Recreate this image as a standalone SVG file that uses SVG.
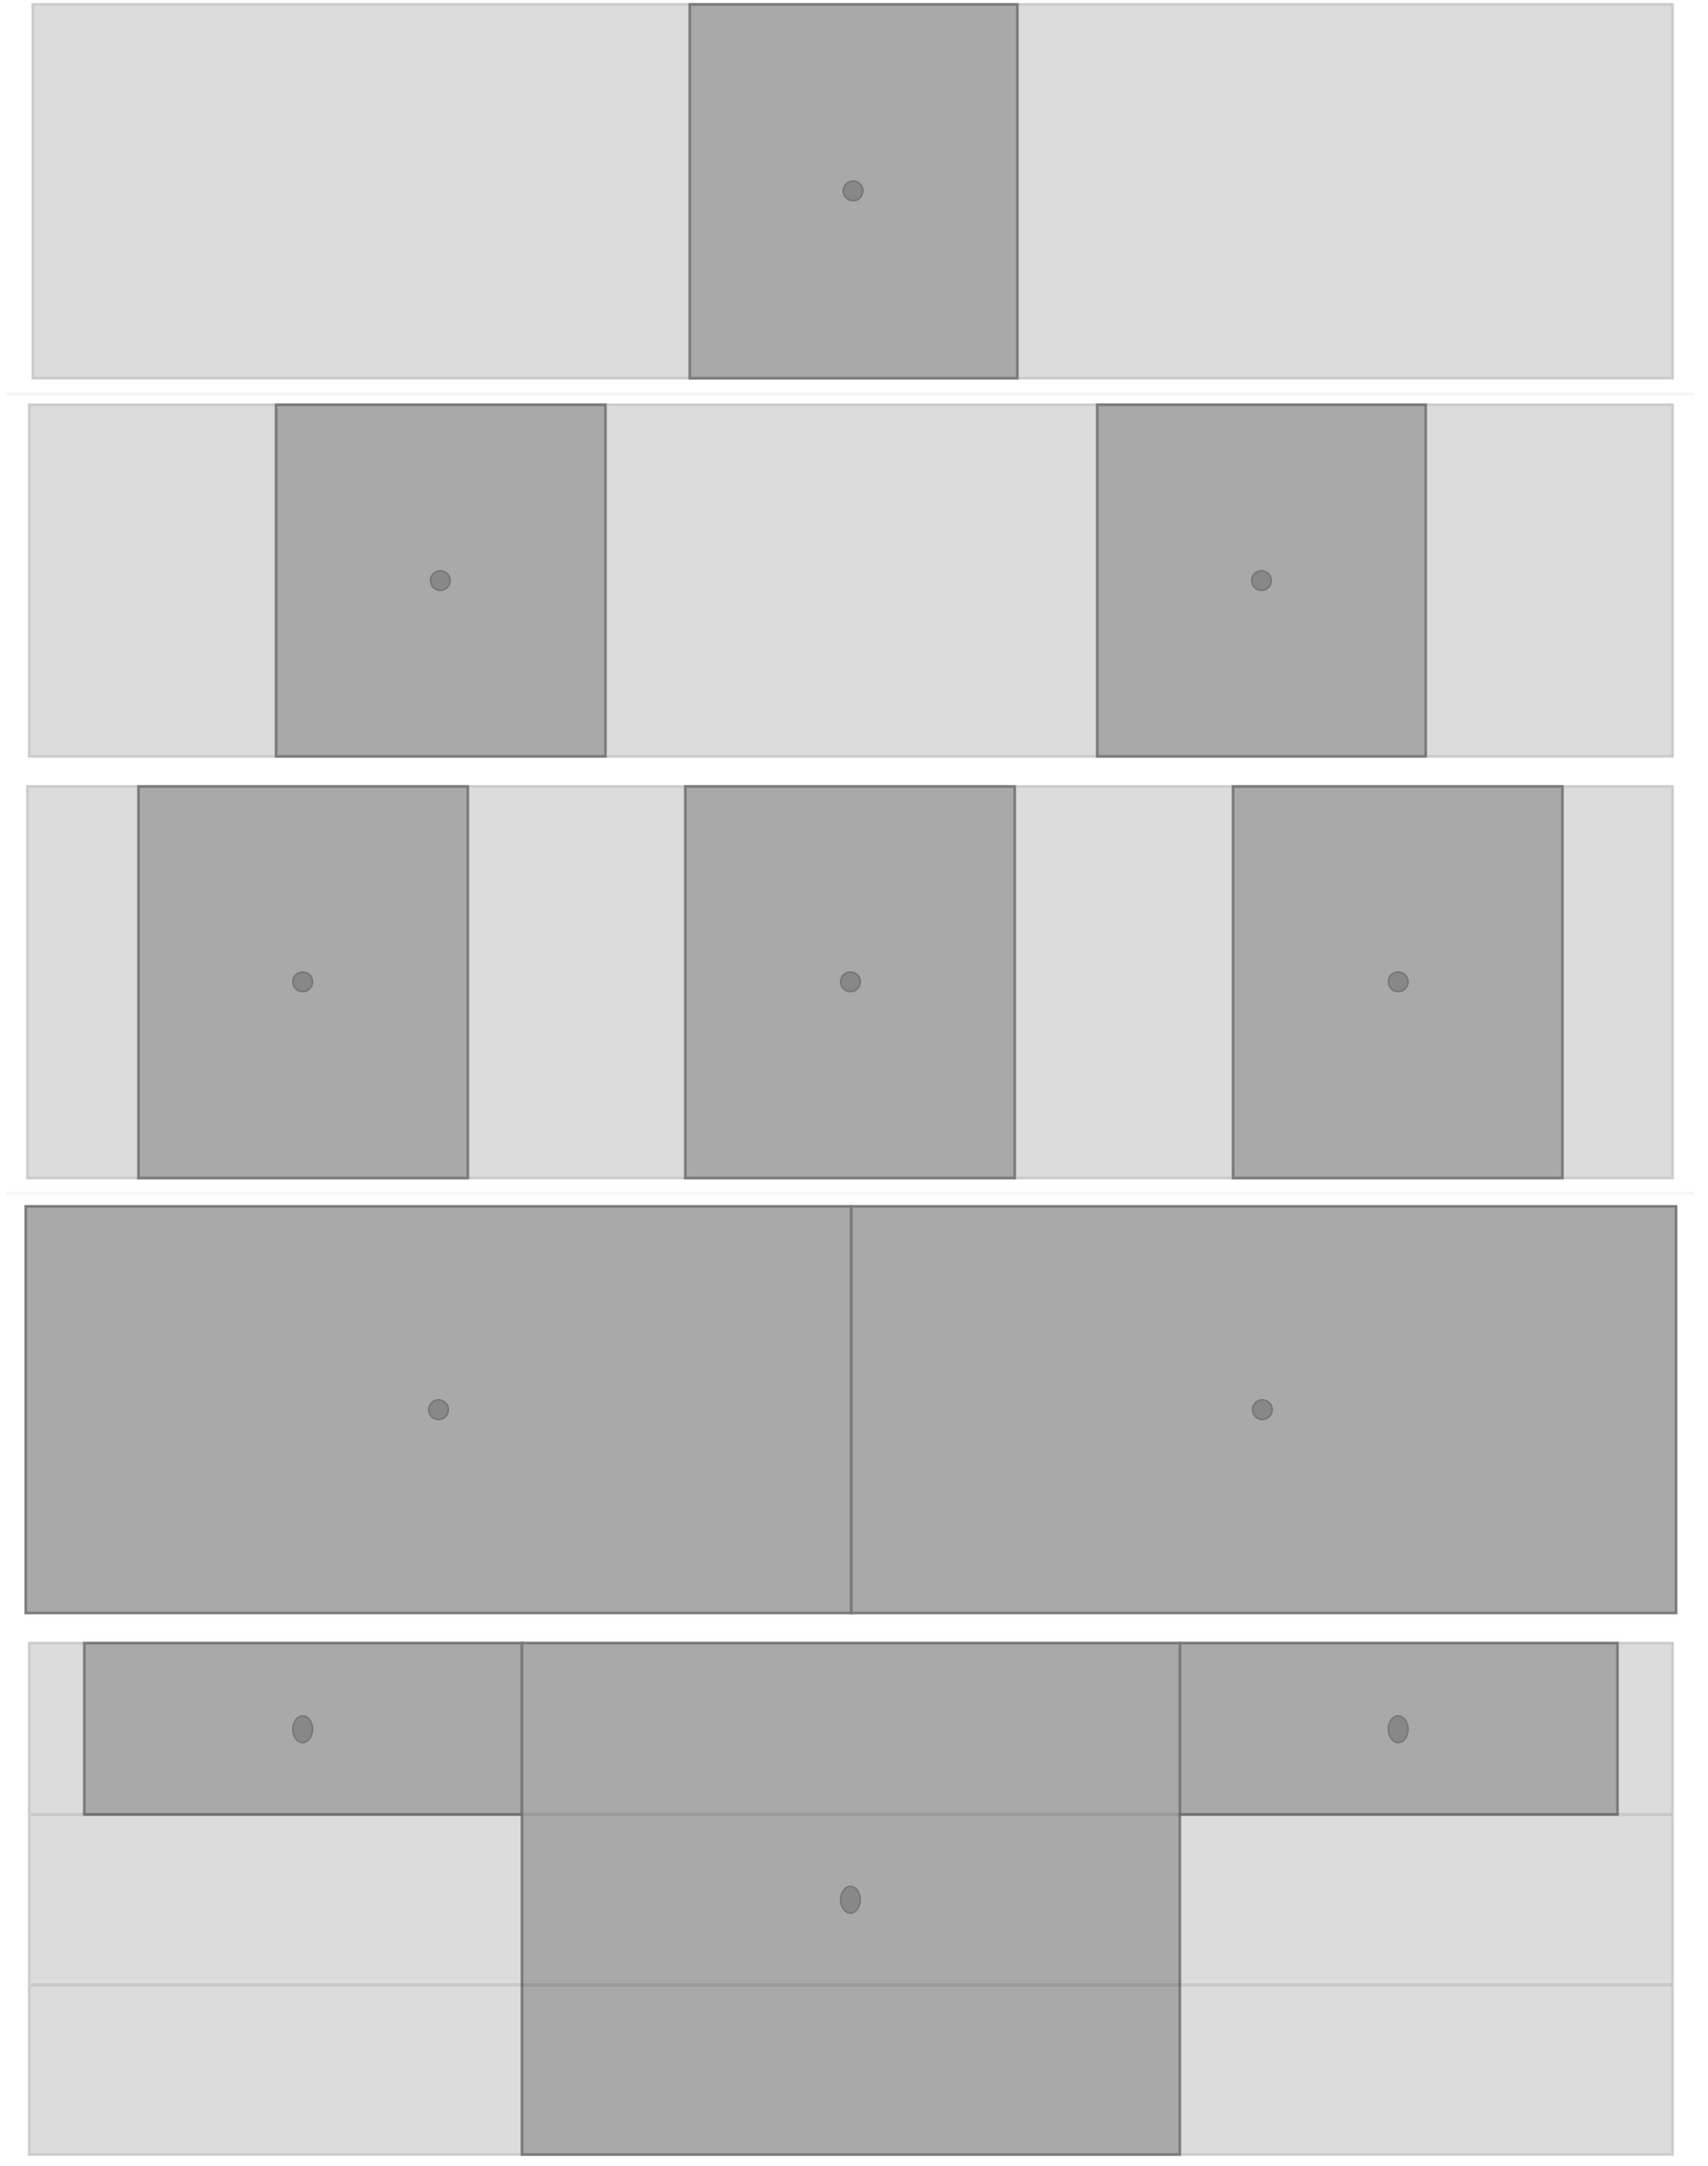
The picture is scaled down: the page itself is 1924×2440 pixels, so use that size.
<svg xmlns="http://www.w3.org/2000/svg" width="1924" height="2440" viewBox="0 0 1924 2440">
<style>
.bg{fill:#dcdcdc;stroke:#cbcbcb;stroke-width:3}
.item{fill:#a9a9a9;stroke:#7a7a7a;stroke-width:3}
.dot{fill:#888888;stroke:#7a7a7a;stroke-width:2}
.grid{stroke:#000;stroke-opacity:0.08;stroke-width:4;fill:none}
.sep{stroke:#f6f6f6;stroke-width:3}
</style>
<rect x="0" y="0" width="1924" height="2440" fill="#ffffff"/>
<g id="separators">
<line class="sep" x1="7" y1="444" x2="1908" y2="444"/>
<line class="sep" x1="7" y1="1344" x2="1908" y2="1344"/>
</g>
<g id="band1">
<rect class="bg" x="37" y="5" width="1847" height="421"/>
<g id="band1-item1">
<rect class="item" x="777" y="5" width="369" height="421"/>
<circle class="dot" cx="961" cy="215" r="11"/>
</g>
</g>
<g id="band2">
<rect class="bg" x="33" y="456" width="1851" height="396"/>
<g id="band2-item1">
<rect class="item" x="311" y="456" width="371" height="396"/>
<circle class="dot" cx="496" cy="654" r="11"/>
</g>
<g id="band2-item2">
<rect class="item" x="1236" y="456" width="370" height="396"/>
<circle class="dot" cx="1421" cy="654" r="11"/>
</g>
</g>
<g id="band3">
<rect class="bg" x="31" y="886" width="1853" height="441"/>
<g id="band3-item1">
<rect class="item" x="156" y="886" width="371" height="441"/>
<circle class="dot" cx="341" cy="1106" r="11"/>
</g>
<g id="band3-item2">
<rect class="item" x="772" y="886" width="371" height="441"/>
<circle class="dot" cx="958" cy="1106" r="11"/>
</g>
<g id="band3-item3">
<rect class="item" x="1389" y="886" width="371" height="441"/>
<circle class="dot" cx="1575" cy="1106" r="11"/>
</g>
</g>
<g id="band4">
<g id="band4-item1">
<rect class="item" x="29" y="1359" width="930" height="458"/>
<circle class="dot" cx="494" cy="1588" r="11"/>
</g>
<g id="band4-item2">
<rect class="item" x="959" y="1359" width="929" height="458"/>
<circle class="dot" cx="1422" cy="1588" r="11"/>
</g>
</g>
<g id="band5">
<rect class="bg" x="33" y="1851" width="1851" height="576"/>
<g id="band5-item1">
<rect class="item" x="95" y="1851" width="493" height="193"/>
<ellipse class="dot" cx="341" cy="1948" rx="11" ry="15"/>
</g>
<g id="band5-item3">
<rect class="item" x="1329" y="1851" width="493" height="193"/>
<ellipse class="dot" cx="1575" cy="1948" rx="11" ry="15"/>
</g>
<g id="band5-item2">
<rect class="item" x="588" y="1851" width="741" height="576"/>
<ellipse class="dot" cx="958" cy="2140" rx="11" ry="15"/>
</g>
<line class="grid" x1="35" y1="2044" x2="1883" y2="2044"/>
<line class="grid" x1="35" y1="2236" x2="1883" y2="2236"/>
</g>
<g id="connectors"/>
</svg>
